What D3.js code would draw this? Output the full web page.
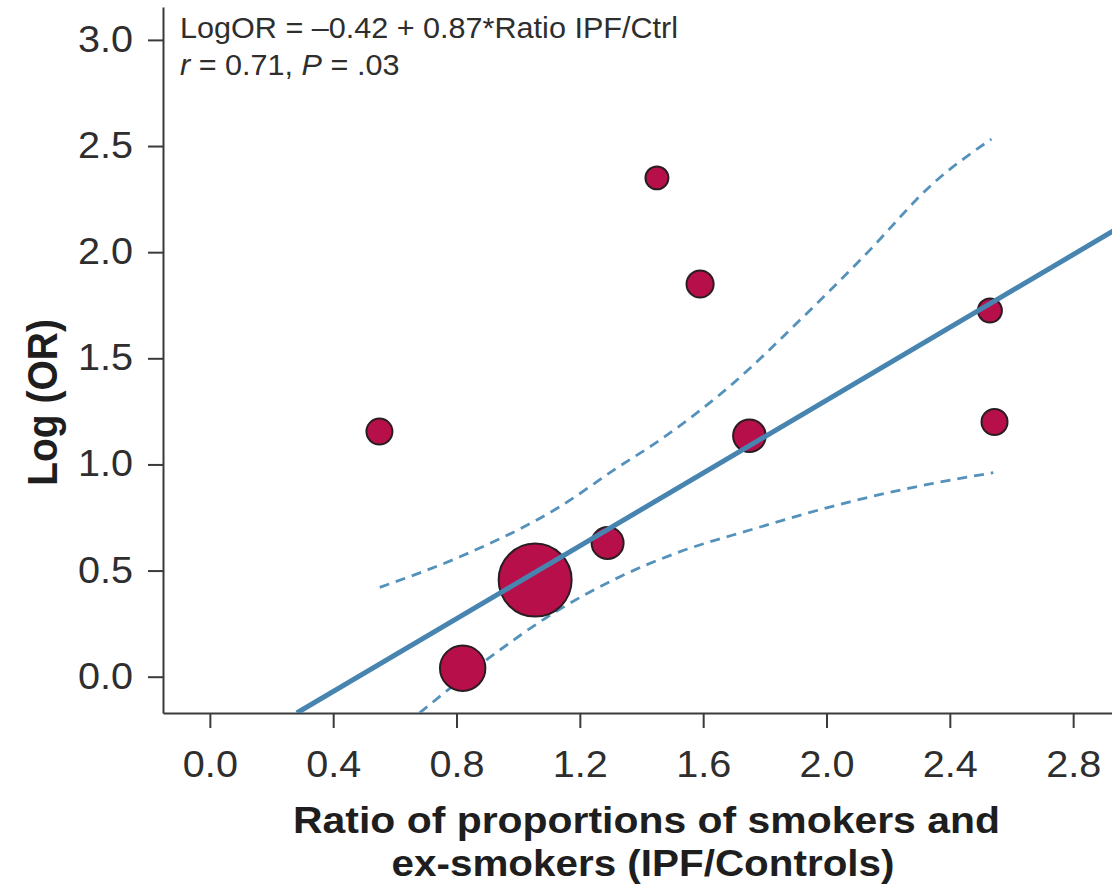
<!DOCTYPE html>
<html>
<head>
<meta charset="utf-8">
<script src="https://cdn.jsdelivr.net/npm/d3@7"></script>
<style>
  html, body { margin: 0; padding: 0; background: #fff; }
  svg { display: block; font-family: "Liberation Sans", Arial, Helvetica, sans-serif; }
</style>
</head>
<body>
<svg id="chart" width="1112" height="891"></svg>
<script>
// ---- data ----
const ratioIPF = [0.55, 1.45, 1.59, 2.53, 2.545, 1.75, 1.29, 1.055, 0.82];
const logOR    = [1.155, 2.35, 1.85, 1.725, 1.20, 1.135, 0.63, 0.455, 0.04];
const weights  = [196, 156, 212, 169, 196, 300, 289, 1406, 562];

const fitX = [0.282, 2.93];
const fitY = [-0.171, 2.10];

const upperX = [0.551, 0.811, 1.135, 1.319, 1.460, 1.697, 1.914, 2.130, 2.346, 2.535];
const upperY = [0.421, 0.565, 0.801, 0.982, 1.115, 1.382, 1.680, 1.994, 2.324, 2.533];
const lowerX = [0.680, 0.897, 1.114, 1.330, 1.525, 1.752, 2.076, 2.346, 2.541];
const lowerY = [-0.171, 0.079, 0.299, 0.471, 0.589, 0.691, 0.824, 0.911, 0.961];

const xTicks = [0.0, 0.4, 0.8, 1.2, 1.6, 2.0, 2.4, 2.8];
const yTicks = [0.0, 0.5, 1.0, 1.5, 2.0, 2.5, 3.0];

const eqText = "LogOR = \u20130.42 + 0.87*Ratio IPF/Ctrl";
const xTitle = ["Ratio of proportions of smokers and", "ex-smokers (IPF/Controls)"];
const yTitle = "Log (OR)";

// ---- drawing ----
(function () {
const svg = d3.select("#chart");
const pLeft = 163, pRight = 1112, pTop = 7, pBottom = 713;

const x = d3.scaleLinear().domain([-0.152, 2.926]).range([pLeft, pRight]);
const y = d3.scaleLinear().domain([-0.171, 3.155]).range([pBottom, pTop]);
const r = d3.scaleSqrt().domain([0, d3.max(weights)]).range([0, 37.5]);

const axisColor = "#3a3a3a";
const textColor = "#2e2e2e";

function stretch(sel, factor) {
  sel.each(function () {
    const w = this.getComputedTextLength();
    d3.select(this).attr("textLength", w * factor).attr("lengthAdjust", "spacingAndGlyphs");
  });
}
function fitWidth(sel, target) {
  sel.each(function () {
    d3.select(this).attr("textLength", target).attr("lengthAdjust", "spacingAndGlyphs");
  });
}

svg.append("defs").append("clipPath").attr("id", "plotclip")
  .append("rect").attr("x", pLeft).attr("y", pTop).attr("width", pRight - pLeft).attr("height", pBottom - pTop);

// axes
const gx = svg.append("g").attr("transform", `translate(0,${pBottom})`)
  .call(d3.axisBottom(x).tickValues(xTicks).tickFormat(d3.format(".1f"))
        .tickSize(15).tickSizeOuter(0).tickPadding(23));
const gy = svg.append("g").attr("transform", `translate(${pLeft},0)`)
  .call(d3.axisLeft(y).tickValues(yTicks).tickFormat(d3.format(".1f"))
        .tickSize(15).tickSizeOuter(0).tickPadding(15));

[gx, gy].forEach(g => {
  g.select(".domain").attr("stroke", axisColor).attr("stroke-width", 2);
  g.selectAll(".tick line").attr("stroke", axisColor).attr("stroke-width", 2);
  g.selectAll(".tick text").attr("fill", textColor)
    .style("font-size", "36px").style("font-family", "'Liberation Sans', Arial, sans-serif");
  stretch(g.selectAll(".tick text"), 1.1);
});

// plot content
const plot = svg.append("g").attr("clip-path", "url(#plotclip)");
const lineGen = d3.line().x(d => x(d[0])).y(d => y(d[1])).curve(d3.curveMonotoneX);

const blue = "#4785b0";
[d3.zip(upperX, upperY), d3.zip(lowerX, lowerY)].forEach(band => {
  plot.append("path")
    .datum(band)
    .attr("d", lineGen).attr("fill", "none")
    .attr("stroke", "#5592bb").attr("stroke-width", 2.8).attr("stroke-dasharray", "10,7");
});

// circles (bigger first so small ones stay on top)
const pts = d3.range(ratioIPF.length).map(i => ({ x: ratioIPF[i], y: logOR[i], w: weights[i] }))
  .sort((a, b) => b.w - a.w);
plot.selectAll("circle.pt").data(pts).join("circle")
  .attr("class", "pt")
  .attr("cx", d => x(d.x)).attr("cy", d => y(d.y)).attr("r", d => r(d.w) - 1)
  .attr("fill", "#b70f4a").attr("stroke", "#2a1d22").attr("stroke-width", 2);

// regression line on top of circles
plot.append("path")
  .datum(d3.zip(fitX, fitY))
  .attr("d", d3.line().x(d => x(d[0])).y(d => y(d[1])))
  .attr("fill", "none").attr("stroke", blue).attr("stroke-width", 5);

// annotation
const ann = svg.append("g").attr("fill", textColor)
  .style("font-family", "'Liberation Sans', Arial, sans-serif").style("font-size", "29px");
const t1 = ann.append("text").attr("x", 180).attr("y", 38).text(eqText);
const t2 = ann.append("text").attr("x", 180).attr("y", 75);
t2.append("tspan").attr("font-style", "italic").text("r");
t2.append("tspan").text(" = 0.71, ");
t2.append("tspan").attr("font-style", "italic").text("P");
t2.append("tspan").text(" = .03");
fitWidth(t1, 498);
stretch(t2, 1.055);

// axis titles
const xt = svg.append("g").attr("fill", "#1e1e1e")
  .style("font-family", "'Liberation Sans', Arial, sans-serif")
  .style("font-size", "37.5px").style("font-weight", "bold").attr("text-anchor", "middle");
xt.selectAll("text").data(xTitle).join("text")
  .attr("x", (d, i) => i === 0 ? 646.5 : 643).attr("y", (d, i) => 833 + i * 43).text(d => d);
fitWidth(xt.selectAll("text").filter((d, i) => i === 0), 707);
fitWidth(xt.selectAll("text").filter((d, i) => i === 1), 503);

svg.append("text")
  .attr("transform", `translate(57,402.5) scale(1.09,1) rotate(-90)`)
  .attr("text-anchor", "middle").attr("fill", "#1e1e1e")
  .style("font-family", "'Liberation Sans', Arial, sans-serif")
  .style("font-size", "39px").style("font-weight", "bold")
  .text(yTitle);
})();
</script>
</body>
</html>
